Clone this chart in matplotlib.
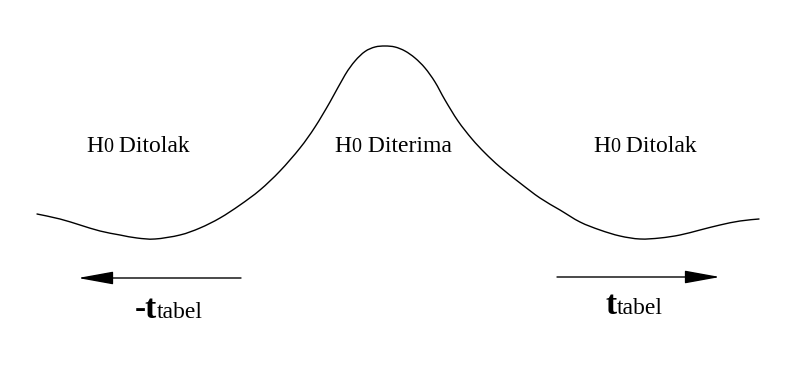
import matplotlib
matplotlib.use("Agg")
import matplotlib.pyplot as plt
from matplotlib.path import Path
from matplotlib.patches import PathPatch
from matplotlib.offsetbox import TextArea, HPacker, AnnotationBbox

# ---- data ----
curve_x = [37, 60, 80, 100, 120, 137, 155, 180, 200, 220, 240, 260, 280, 300, 315,
           330, 345, 355, 365, 375, 385, 395, 405, 415, 425, 435, 445, 458, 472, 485,
           500, 520, 540, 560, 580, 600, 620, 640, 660, 680, 700, 720, 740, 759]
curve_y = [152, 147, 141, 135, 131, 128, 127, 131, 138, 148, 161, 176, 195, 218, 239,
           264, 291, 305, 314.5, 319, 320, 319, 315, 308, 298, 284, 266, 245, 227, 213,
           199, 183, 168, 156, 144, 136, 130, 127, 128, 131, 136, 141, 145, 147]

region_words = [" Ditolak", " Diterima", " Ditolak"]
region_x = [138, 393, 645]
region_y = [219, 220, 219]

# critical-value arrows: (start, end, y)
arrow_left = (241, 78, 88)
arrow_right = (557, 720, 89)
crit_labels = [("-t", "tabel"), ("t", "tabel")]
crit_x = [169, 634]
crit_y = [56, 61]

SERIF = "Liberation Serif"

fig = plt.figure(figsize=(7.88, 3.66), dpi=100)
ax = fig.add_axes([0, 0, 1, 1])
ax.set_xlim(0, 788)
ax.set_ylim(0, 366)
ax.axis("off")

# smooth drawing of the read points (Catmull-Rom as cubic Bezier segments)
pts = list(zip(curve_x, curve_y))
verts = [pts[0]]
codes = [Path.MOVETO]
n = len(pts)
for i in range(n - 1):
    p0 = pts[max(i - 1, 0)]
    p1 = pts[i]
    p2 = pts[i + 1]
    p3 = pts[min(i + 2, n - 1)]
    c1 = (p1[0] + (p2[0] - p0[0]) / 6.0, p1[1] + (p2[1] - p0[1]) / 6.0)
    c2 = (p2[0] - (p3[0] - p1[0]) / 6.0, p2[1] - (p3[1] - p1[1]) / 6.0)
    verts += [c1, c2, p2]
    codes += [Path.CURVE4, Path.CURVE4, Path.CURVE4]
ax.add_patch(PathPatch(Path(verts, codes), facecolor="none", edgecolor="black",
                       lw=1.0, capstyle="round"))


def packed_label(pieces, xy):
    boxes = [TextArea(s, textprops=dict(family=SERIF, size=sz, weight=wt, color="black"))
             for s, sz, wt in pieces]
    pack = HPacker(children=boxes, align="baseline", pad=0, sep=0)
    ab = AnnotationBbox(pack, xy, xycoords="data", frameon=False,
                        box_alignment=(0.5, 0.5), pad=0)
    ax.add_artist(ab)


for word, x, y in zip(region_words, region_x, region_y):
    packed_label([("H", 17, "normal"), ("0", 14.5, "normal"), (word, 17, "normal")], (x, y))

for (big, small), x, y in zip(crit_labels, crit_x, crit_y):
    packed_label([(big, 24, "bold"), (small, 17, "normal")], (x, y))

for (x0, x1, y) in (arrow_left, arrow_right):
    ax.annotate("", xy=(x1, y), xytext=(x0, y),
                arrowprops=dict(arrowstyle="-|>,head_length=2.2,head_width=0.4",
                                mutation_scale=10, color="black", lw=1.0,
                                shrinkA=0, shrinkB=0))

fig.savefig("out.png", dpi=100, facecolor="white")
